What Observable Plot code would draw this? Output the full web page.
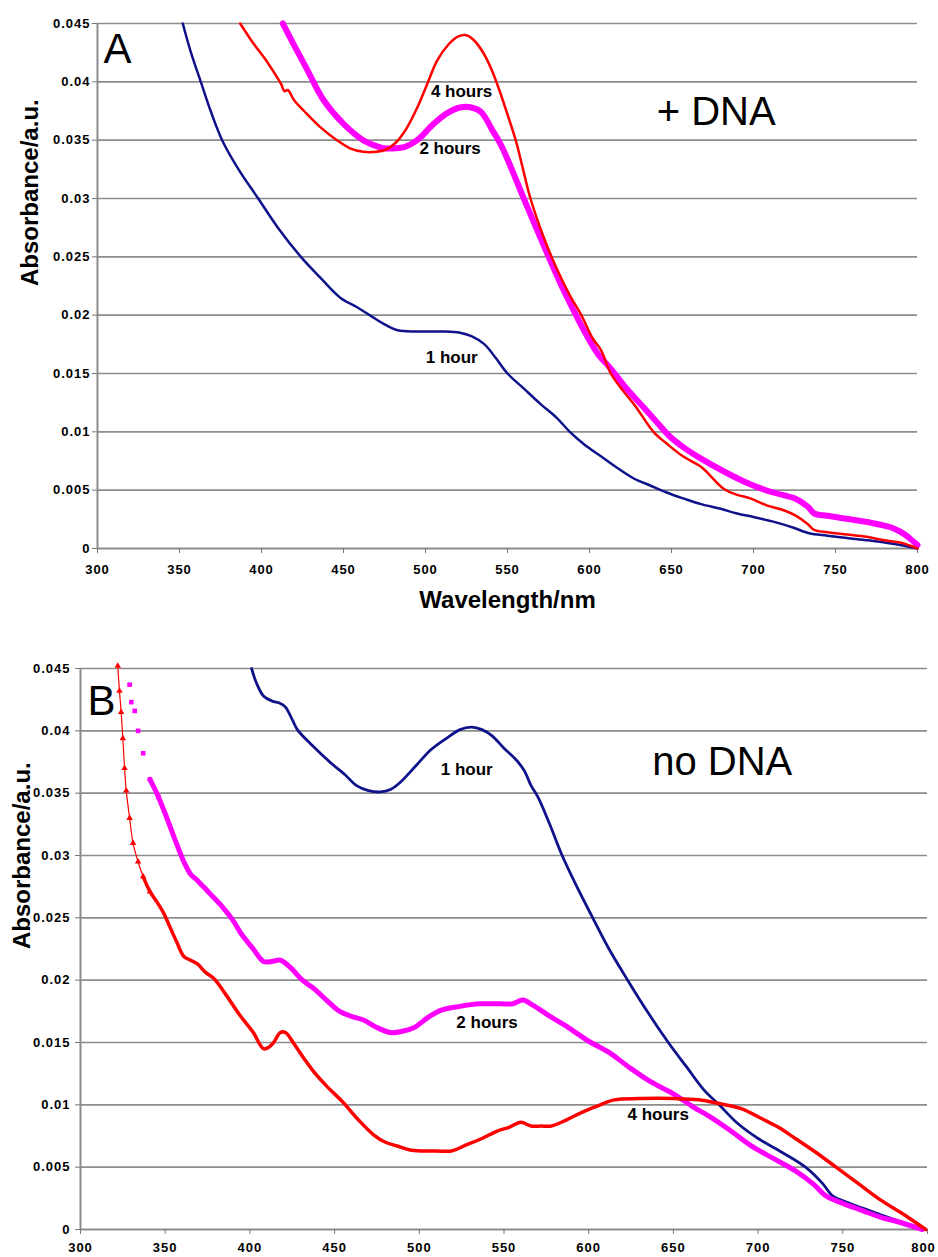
<!DOCTYPE html>
<html>
<head>
<meta charset="utf-8">
<script src="https://cdn.jsdelivr.net/npm/d3@7"></script>
<script src="https://cdn.jsdelivr.net/npm/@observablehq/plot@0.6"></script>
<style>
  body { margin: 0; background: #fff; }
  #charts svg { display: block; }
  g[aria-label="x-axis tick label"], g[aria-label="y-axis tick label"] {
    font-weight: bold; font-size: 13px; letter-spacing: 1px;
  }
</style>
</head>
<body>
<div id="charts"></div>
<script>
// Axis ticks
const wavelengthTicks = [300, 350, 400, 450, 500, 550, 600, 650, 700, 750, 800];
const absorbanceTicks = [0, 0.005, 0.01, 0.015, 0.02, 0.025, 0.03, 0.035, 0.04, 0.045];

// Panel A: spectra with DNA, [wavelength nm, absorbance]
const dna1h = [[352,0.0450],[357,0.0425],[363,0.0400],[369,0.0375],[376,0.0350],[386,0.0325],[398,0.0300],[410,0.0275],[424,0.0250],[436,0.0232],[448,0.0215],[458,0.0207],[466,0.0200],[474,0.0193],[483,0.0187],[495,0.0186],[510,0.0186],[521,0.0185],[528,0.0182],[536,0.0175],[543,0.0163],[550,0.0150],[560,0.0137],[570,0.0124],[580,0.0112],[588,0.0100],[597,0.0089],[607,0.0079],[617,0.0069],[627,0.0060],[637,0.0054],[647,0.0048],[657,0.0043],[668,0.0038],[680,0.0034],[690,0.0030],[700,0.0027],[712,0.0023],[724,0.0018],[734,0.0013],[745,0.0011],[757,0.0009],[770,0.0007],[785,0.0004],[800,0.0000]];
const dna2h = [[413,0.0450],[420,0.0431],[428,0.0410],[438,0.0384],[450,0.0364],[462,0.0350],[468,0.0346],[475,0.0343],[481,0.0343],[487,0.0344],[495,0.0350],[505,0.0364],[513,0.0373],[521,0.0378],[528,0.0378],[534,0.0374],[541,0.0358],[546,0.0346],[552,0.0327],[562,0.0293],[569,0.0270],[576,0.0247],[583,0.0225],[590,0.0205],[597,0.0186],[605,0.0167],[613,0.0154],[622,0.0138],[631,0.0124],[640,0.0110],[649,0.0096],[658,0.0086],[668,0.0077],[682,0.0066],[698,0.0055],[712,0.0048],[725,0.0043],[733,0.0036],[737,0.0030],[745,0.0028],[759,0.0025],[772,0.0022],[784,0.0018],[790,0.0014],[795,0.0009],[800,0.0003]];
const dna4h = [[387,0.0450],[395,0.0433],[402,0.0420],[409,0.0405],[412,0.0398],[414,0.0392],[416,0.0393],[420,0.0384],[426,0.0375],[436,0.0361],[446,0.0350],[454,0.0343],[462,0.0340],[470,0.0340],[476,0.0342],[482,0.0348],[488,0.0359],[495,0.0378],[501,0.0398],[507,0.0418],[514,0.0432],[520,0.0439],[525,0.0440],[530,0.0435],[536,0.0423],[541,0.0408],[545,0.0393],[550,0.0372],[555,0.0350],[560,0.0322],[564,0.0300],[572,0.0267],[580,0.0240],[588,0.0217],[595,0.0200],[602,0.0180],[607,0.0170],[613,0.0150],[620,0.0136],[628,0.0122],[639,0.0100],[647,0.0090],[657,0.0079],[668,0.0070],[682,0.0051],[690,0.0046],[698,0.0043],[708,0.0037],[718,0.0033],[726,0.0028],[733,0.0021],[737,0.0016],[745,0.0014],[757,0.0012],[769,0.0010],[780,0.0007],[790,0.0005],[800,0.0000]];

// Panel B: spectra without DNA
const noDna1h = [[401,0.0450],[404,0.0438],[408,0.0428],[413,0.0424],[418,0.0422],[421,0.0419],[425,0.0409],[428,0.0401],[437,0.0388],[448,0.0374],[456,0.0365],[463,0.0356],[470,0.0352],[477,0.0351],[483,0.0353],[489,0.0359],[498,0.0372],[507,0.0385],[516,0.0394],[524,0.0401],[531,0.0403],[537,0.0401],[543,0.0396],[550,0.0386],[557,0.0377],[562,0.0368],[566,0.0356],[570,0.0347],[577,0.0325],[584,0.0301],[593,0.0275],[602,0.0251],[612,0.0225],[623,0.0200],[635,0.0174],[647,0.0150],[658,0.0130],[668,0.0112],[677,0.0100],[688,0.0085],[700,0.0073],[714,0.0062],[728,0.0050],[738,0.0037],[744,0.0027],[752,0.0022],[762,0.0017],[772,0.0012],[785,0.0006],[799,0.0000]];
const noDna2h = [[329,0.0437],[330,0.0423],[332,0.0416],[334,0.0400],[337,0.0382],[341,0.0361],[346,0.0347],[351,0.0330],[356,0.0312],[361,0.0295],[365,0.0285],[369,0.0280],[376,0.0270],[383,0.0260],[390,0.0248],[395,0.0237],[402,0.0225],[408,0.0215],[413,0.0215],[418,0.0216],[424,0.0210],[431,0.0200],[438,0.0193],[446,0.0183],[453,0.0175],[460,0.0171],[467,0.0168],[475,0.0162],[483,0.0158],[490,0.0159],[497,0.0162],[505,0.0170],[513,0.0176],[524,0.0179],[536,0.0181],[548,0.0181],[555,0.0181],[561,0.0184],[567,0.0180],[576,0.0172],[588,0.0162],[600,0.0151],[612,0.0142],[623,0.0131],[636,0.0119],[651,0.0108],[662,0.0098],[671,0.0091],[683,0.0080],[696,0.0067],[709,0.0057],[722,0.0047],[733,0.0036],[740,0.0027],[750,0.0021],[762,0.0015],[772,0.0010],[783,0.0006],[797,0.0000]];
const noDna4h = [[322,0.0452],[323,0.0432],[324,0.0415],[325,0.0394],[326,0.0370],[327,0.0352],[329,0.0330],[331,0.0310],[334,0.0295],[337,0.0283],[341,0.0271],[345,0.0263],[349,0.0254],[353,0.0242],[357,0.0230],[361,0.0219],[365,0.0216],[369,0.0213],[374,0.0206],[379,0.0201],[386,0.0188],[394,0.0172],[402,0.0158],[408,0.0145],[411,0.0146],[414,0.0150],[418,0.0158],[421,0.0158],[426,0.0149],[432,0.0137],[438,0.0126],[446,0.0114],[455,0.0102],[464,0.0088],[473,0.0076],[480,0.0070],[487,0.0067],[494,0.0064],[501,0.0063],[510,0.0063],[519,0.0063],[528,0.0068],[537,0.0073],[546,0.0079],[553,0.0082],[560,0.0086],[566,0.0083],[572,0.0083],[578,0.0083],[587,0.0088],[596,0.0094],[605,0.0099],[615,0.0104],[630,0.0105],[651,0.0105],[665,0.0104],[677,0.0101],[690,0.0097],[702,0.0089],[712,0.0082],[722,0.0073],[734,0.0062],[746,0.0050],[760,0.0036],[772,0.0024],[786,0.0012],[799,0.0000]];

// Curve labels: [text, wavelength, absorbance]
const labelsA = [["4 hours", 522, 0.0392], ["2 hours", 515, 0.0343], ["1 hour", 516, 0.0164]];
const labelsB = [["1 hour", 528, 0.0369], ["2 hours", 540, 0.0166], ["4 hours", 641, 0.0092]];

const NAVY = "#10128c", RED = "#ff0000", MAGENTA = "#ff00ff";
const FONT = "'Liberation Sans', Arial, sans-serif";
const GRID = "#8c8c8c";
const CURVE = "catmull-rom";

const rows = (pts) => pts.map(([nm, a]) => ({nm, a}));

function panel(cfg) {
  const lastTick = wavelengthTicks[wavelengthTicks.length - 1];
  return Plot.plot({
    width: 938,
    height: cfg.height,
    marginLeft: cfg.marginLeft,
    marginRight: cfg.marginRight,
    marginTop: cfg.marginTop,
    marginBottom: cfg.marginBottom,
    style: {fontFamily: FONT, background: "#fff", color: "#000"},
    x: {domain: [300, 800]},
    y: {domain: [0, 0.045]},
    marks: [
      Plot.gridY(absorbanceTicks.filter(d => d > 0), {stroke: GRID, strokeOpacity: 1, strokeWidth: 1.6}),
      Plot.ruleY([0], {stroke: GRID, strokeWidth: 2}),
      Plot.ruleX([300], {stroke: GRID, strokeWidth: 2}),
      Plot.axisX({ticks: wavelengthTicks, tickSize: 5, tickPadding: cfg.xPad, stroke: "#777", fill: "#000", label: null,
        tickFormat: d => (cfg.nudgeLast && d === lastTick) ? "" : String(d)}),
      // the last wavelength label sits at the edge of the panel, nudged inwards so it stays whole
      ...(cfg.nudgeLast ? [Plot.axisX({ticks: [lastTick], tickSize: 0, tickPadding: cfg.xPad + 5, dx: -4, fill: "#000", label: null, tickFormat: d => String(d)})] : []),
      Plot.axisY({ticks: absorbanceTicks, tickSize: 5, tickPadding: cfg.yPad, stroke: "#777", fill: "#000", label: null, tickFormat: d => String(d)}),
      ...cfg.curves,
      Plot.text(cfg.labels, {x: d => d[1], y: d => d[2], text: d => d[0], fontSize: 17, fontWeight: "bold", fill: "#000", letterSpacing: "-0.5px"}),
      Plot.text([cfg.tag], {frameAnchor: "top-left", dx: cfg.tagDx, dy: cfg.tagDy, textAnchor: "start", lineAnchor: "middle", fontSize: 42, fill: "#000"}),
      Plot.text([cfg.condition], {x: cfg.conditionAt[0], y: cfg.conditionAt[1], textAnchor: "start", lineAnchor: "middle", fontSize: 40, fill: "#000"}),
      Plot.text(["Absorbance/a.u."], {frameAnchor: "left", rotate: -90, dx: cfg.yTitleDx, fontSize: 24, fontWeight: "bold", lineAnchor: "middle", fill: "#000"}),
      ...(cfg.xTitle ? [Plot.text([cfg.xTitle], {frameAnchor: "bottom", dy: 52, fontSize: 24, fontWeight: "bold", lineAnchor: "middle", fill: "#000"})] : [])
    ]
  });
}

const charts = document.getElementById("charts");

// Panel A: + DNA
charts.append(panel({
  height: 640, marginLeft: 97, marginRight: 21, marginTop: 23, marginBottom: 92,
  xPad: 11, yPad: 2, tagDx: 6, tagDy: 26, yTitleDx: -67,
  tag: "A", condition: "+ DNA", conditionAt: [641, 0.0374],
  xTitle: "Wavelength/nm", nudgeLast: false,
  labels: labelsA,
  curves: [
    Plot.line(rows(dna1h), {x: "nm", y: "a", stroke: NAVY, strokeWidth: 2.5, curve: CURVE}),
    Plot.line(rows(dna2h), {x: "nm", y: "a", stroke: MAGENTA, strokeWidth: 6, curve: CURVE}),
    Plot.line(rows(dna4h), {x: "nm", y: "a", stroke: RED, strokeWidth: 2.5, curve: CURVE})
  ]
}));

// Panel B: no DNA (sparse markers where the spectra rise steeply)
const early2h = rows(noDna2h).filter(d => d.nm <= 346);
const late2h = rows(noDna2h).filter(d => d.nm >= 341);
const early4h = rows(noDna4h).filter(d => d.nm <= 341);
const late4h = rows(noDna4h).filter(d => d.nm >= 337);

charts.append(panel({
  height: 617, marginLeft: 80, marginRight: 11, marginTop: 28, marginBottom: 28,
  xPad: 8, yPad: 5, tagDx: 7, tagDy: 33, yTitleDx: -58,
  tag: "B", condition: "no DNA", conditionAt: [637.5, 0.0375],
  xTitle: null, nudgeLast: true,
  labels: labelsB,
  curves: [
    Plot.line(rows(noDna1h), {x: "nm", y: "a", stroke: NAVY, strokeWidth: 2.8, curve: CURVE}),
    Plot.dot(early2h, {x: "nm", y: "a", symbol: "square", r: 2.6, fill: MAGENTA}),
    Plot.line(late2h, {x: "nm", y: "a", stroke: MAGENTA, strokeWidth: 5, curve: CURVE}),
    Plot.line(early4h, {x: "nm", y: "a", stroke: RED, strokeWidth: 1.2, curve: CURVE}),
    Plot.dot(early4h, {x: "nm", y: "a", symbol: "triangle", r: 2.4, fill: RED}),
    Plot.line(late4h, {x: "nm", y: "a", stroke: RED, strokeWidth: 3.5, curve: CURVE})
  ]
}));
</script>
</body>
</html>
